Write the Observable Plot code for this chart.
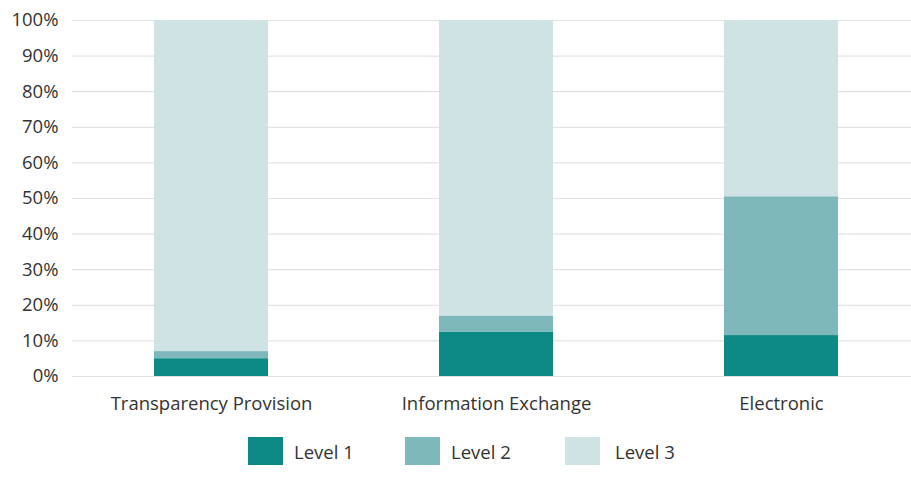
<!DOCTYPE html>
<html>
<head>
<meta charset="utf-8">
<script src="https://cdn.jsdelivr.net/npm/d3@7"></script>
<script src="https://cdn.jsdelivr.net/npm/@observablehq/plot@0.6"></script>
<style>
  html, body { margin: 0; padding: 0; background: #fff; }
  body { font-family: "Open Sans", "Noto Sans", sans-serif; color: #333; }
  #legend { position: relative; height: 59px; }
  .item { position: absolute; top: 17px; display: flex; align-items: center; font-size: 18.5px; color: #333; }
  .sw { width: 35px; height: 28px; margin-right: 11px; }
</style>
</head>
<body>
<div id="chart"></div>
<div id="legend"></div>
<script>
const categories = ["Transparency Provision", "Information Exchange", "Electronic"];
const levels = ["Level 1", "Level 2", "Level 3"];
const level1 = [5, 12.5, 11.5];
const level2 = [2, 4.5, 39];
const level3 = [93, 83, 49.5];
const colors = ["#0e8a86", "#7fb8bb", "#cfe3e5"];
const yTicks = [0, 10, 20, 30, 40, 50, 60, 70, 80, 90, 100];

const series = [level1, level2, level3];
const data = [];
categories.forEach((c, i) => {
  levels.forEach((l, j) => data.push({category: c, level: l, value: series[j][i]}));
});

const chart = Plot.plot({
  width: 911,
  height: 420,
  marginTop: 20,
  marginBottom: 44,
  marginLeft: 72,
  marginRight: 0,
  style: {fontFamily: "'Open Sans', 'Noto Sans', sans-serif", fontSize: "18.5px", color: "#333", background: "#fff"},
  x: {domain: categories, paddingInner: 0.6, paddingOuter: 0.27, align: 0.53, label: null},
  y: {domain: [0, 100], label: null},
  color: {domain: levels, range: colors},
  marks: [
    Plot.gridY(yTicks, {stroke: "#e3e3e3", strokeOpacity: 1, strokeWidth: 1.2}),
    Plot.barY(data, Plot.stackY({x: "category", y: "value", fill: "level", order: levels})),
    Plot.axisY(yTicks, {tickFormat: d => d + "%", tickSize: 0, tickPadding: 14, fontSize: 18.5, fill: "#333", label: null}),
    Plot.axisX({tickSize: 0, tickPadding: 20, fontSize: 18.5, fill: "#333", label: null})
  ]
});
document.getElementById("chart").appendChild(chart);

const legend = document.getElementById("legend");
const lx = [248, 405, 565];
levels.forEach((l, i) => {
  const it = document.createElement("div");
  it.className = "item";
  it.style.left = lx[i] + "px";
  const sw = document.createElement("div");
  sw.className = "sw";
  sw.style.background = colors[i];
  sw.style.marginRight = (i === 2 ? 15 : 11) + "px";
  const tx = document.createElement("span");
  tx.textContent = l;
  it.appendChild(sw);
  it.appendChild(tx);
  legend.appendChild(it);
});
</script>
</body>
</html>
